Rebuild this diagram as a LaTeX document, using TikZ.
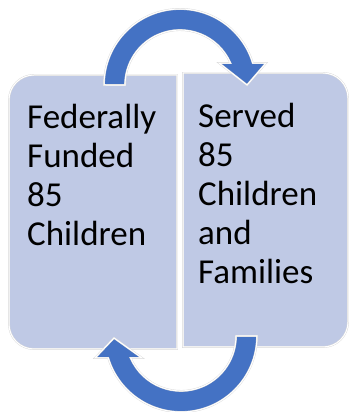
\documentclass[tikz,border=0pt]{standalone}
\usepackage{fontspec}
\setmainfont{Carlito}
\usepackage{tikz}
\definecolor{panelfill}{RGB}{191,201,229}
\definecolor{cycleblue}{RGB}{68,114,196}
\tikzset{panel/.style={fill=panelfill,draw=black!15,double=white,double distance=1pt},
	 cyclearrow/.style={fill=cycleblue,draw=black!15,double=white,double distance=1pt},
	 paneltext/.style={anchor=north west,inner sep=0pt,align=left,font=\fontsize{35}{39}\selectfont}
	 }

\begin{document}
\begin{tikzpicture}[x=1pt,y=1pt]
	\useasboundingbox[fill=white] (0,0) rectangle (349,412);
	\coordinate (ctop) at (180,327); \coordinate (cbot) at (181,76); % centres of the two arcs
	\draw[panel] (177,63) -- (34,63) arc[start angle=270,end angle=180,radius=25] -- (9,312) arc[start angle=180,end angle=90,radius=25] -- (177,337) -- cycle;
	\draw[panel] (183,65) -- (323,65) arc[start angle=-90,end angle=0,radius=25] -- (348,314) arc[start angle=0,end angle=90,radius=25] -- (183,339) -- cycle;
	\node[paneltext] (fed) at (27,308) {Federally\\Funded\\85\\Children};
	\node[paneltext] (srv) at (198,309) {Served\\85\\Children\\and\\Families};
	\draw[cyclearrow] (ctop) ++(-76,0) arc[start angle=180,end angle=16.8,radius=76] -- ++(13.3,0) -- ++(-19,-22) -- ++(-28,22) -- ++(11.4,0) arc[start angle=23.6,end angle=180,radius=55] -- cycle;
	\draw[cyclearrow] (cbot) ++(76,0) arc[start angle=0,end angle=-163.2,radius=76] -- ++(-13.25,0) -- ++(19,20) -- ++(28,-20) -- ++(-11.4,0) arc[start angle=-156.4,end angle=0,radius=55] -- cycle;
\end{tikzpicture}
\end{document}
